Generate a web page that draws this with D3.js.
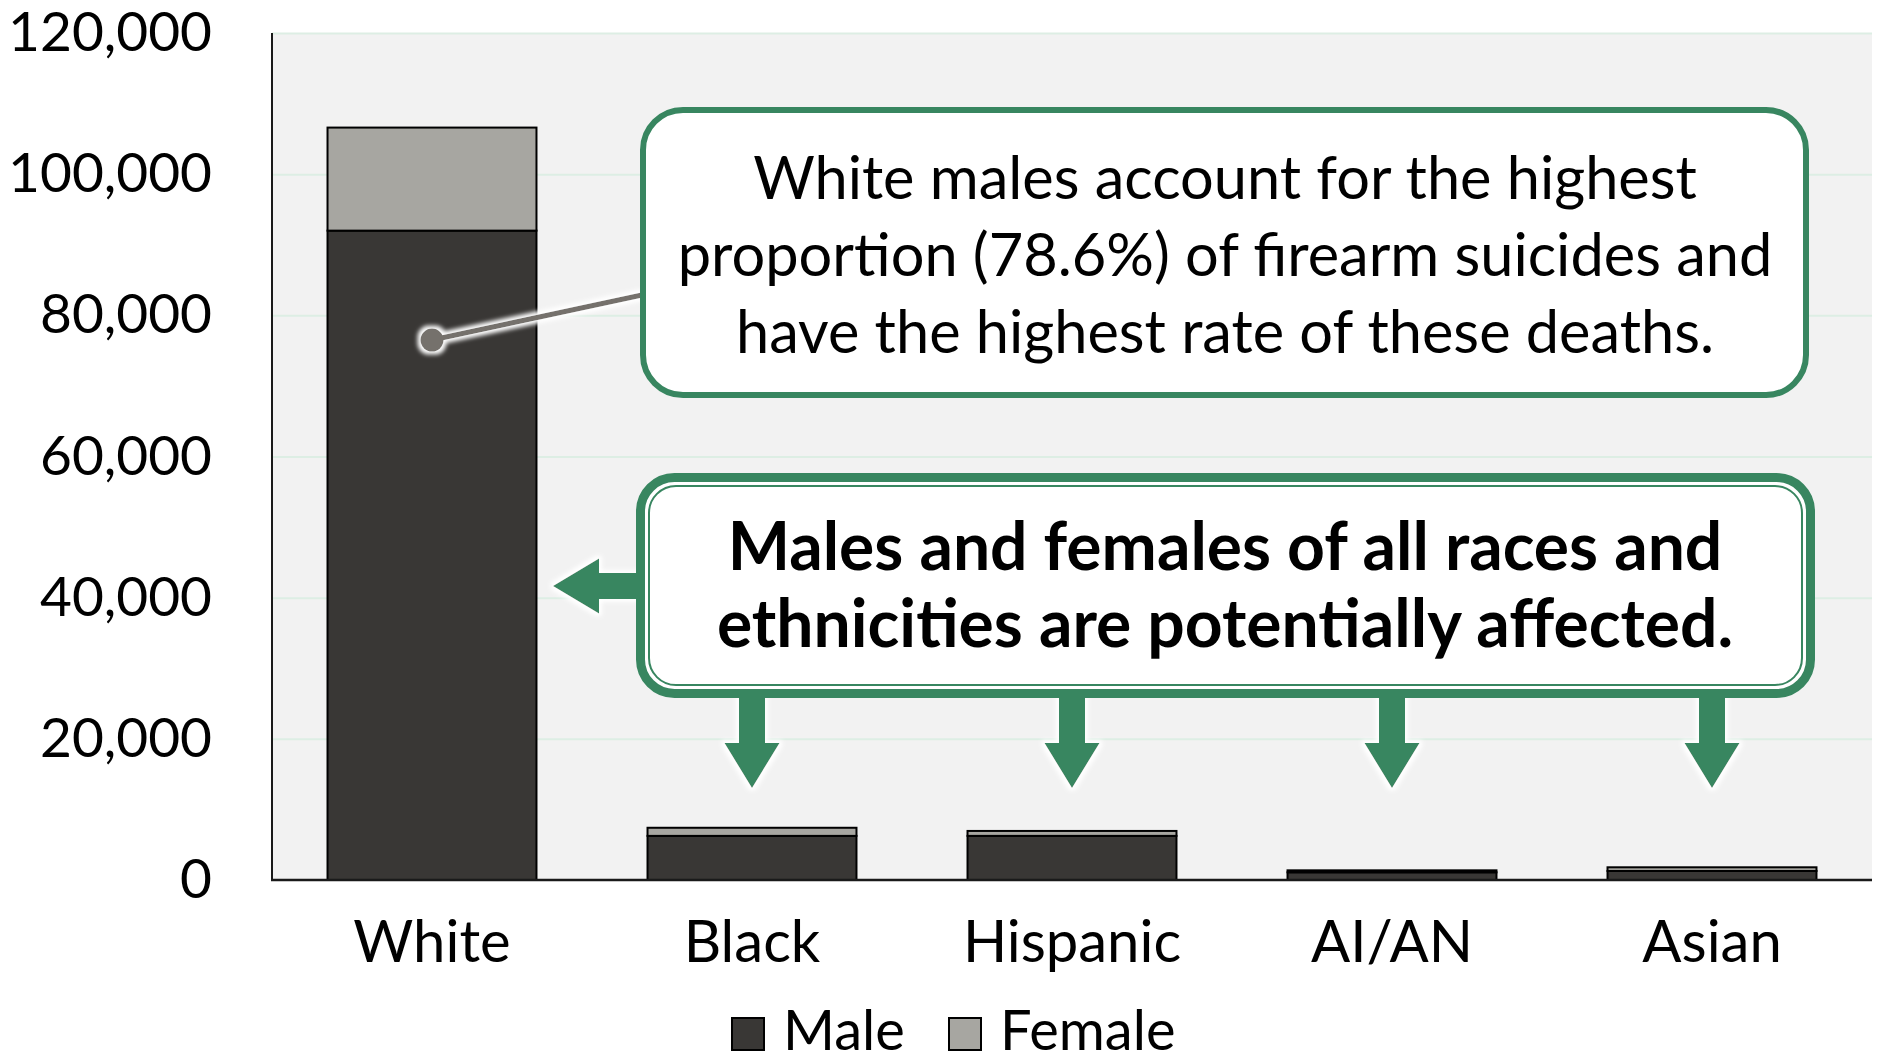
<!DOCTYPE html>
<html>
<head>
<meta charset="utf-8">
<script src="https://cdn.jsdelivr.net/npm/d3@7"></script>
<style>
  body { margin: 0; background: #fff; }
  svg { display: block; font-family: Lato, "Open Sans", sans-serif; }
</style>
</head>
<body>
<svg width="1878" height="1063"></svg>
<script>
const categories = ['White', 'Black', 'Hispanic', 'AI/AN', 'Asian'];
const maleDeaths = [92000, 6250, 6250, 1090, 1280];
const femaleDeaths = [14600, 1150, 700, 280, 520];
const yTicks = [0, 20000, 40000, 60000, 80000, 100000, 120000];
const seriesNames = ['Male', 'Female'];
const seriesColors = ['#393735', '#a7a6a1'];

const note1 = ['White males account for the highest',
    'proportion (78.6%) of firearm suicides and',
    'have the highest rate of these deaths.'];
const note2 = ['Males and females of all races and',
    'ethnicities are potentially affected.'];

const svg = d3.select('svg');
const green = '#388660';

const rows = categories.map((c, i) => ({cat: c, Male: maleDeaths[i], Female: femaleDeaths[i]}));
const stacked = d3.stack().keys(seriesNames)(rows);

const x = d3.scaleBand()
    .domain(categories)
    .range([272, 1872])
    .paddingInner(0.347)
    .paddingOuter(0.1735);

const y = d3.scaleLinear()
    .domain([0, 120000])
    .range([880, 33]);

const color = d3.scaleOrdinal().domain(seriesNames).range(seriesColors);

// white glow used on leader and arrows
const defs = svg.append('defs');
const glow = defs.append('filter').attr('id', 'glow')
    .attr('x', '-20%').attr('y', '-20%').attr('width', '140%').attr('height', '140%');
glow.append('feMorphology').attr('in', 'SourceAlpha').attr('operator', 'dilate').attr('radius', 2.5).attr('result', 'd');
glow.append('feGaussianBlur').attr('in', 'd').attr('stdDeviation', 2).attr('result', 'b');
glow.append('feFlood').attr('flood-color', '#fff').attr('result', 'w');
glow.append('feComposite').attr('in', 'w').attr('in2', 'b').attr('operator', 'in').attr('result', 'g');
const merge = glow.append('feMerge');
merge.append('feMergeNode').attr('in', 'g');
merge.append('feMergeNode').attr('in', 'SourceGraphic');

// plot background
svg.append('rect')
    .attr('x', 272).attr('y', y(120000))
    .attr('width', 1600).attr('height', y(0) - y(120000))
    .attr('fill', '#f2f2f2');

// gridlines
svg.append('g')
    .attr('transform', 'translate(272,0)')
    .call(d3.axisLeft(y).tickValues(yTicks.slice(1)).tickSize(-1600).tickFormat(''))
    .call(g => g.select('.domain').remove())
    .call(g => g.selectAll('line').attr('stroke', '#ddeee4').attr('stroke-width', 2));

// y labels
svg.append('g')
    .attr('transform', 'translate(272,0)')
    .call(d3.axisLeft(y).tickValues(yTicks).tickSize(0).tickPadding(60).tickFormat(d3.format(',')))
    .call(g => g.select('.domain').remove())
    .call(g => g.selectAll('text')
        .attr('font-family', 'Lato, sans-serif')
        .attr('font-size', 55)
        .attr('fill', '#000'));

// bars
svg.append('g')
    .selectAll('g')
    .data(stacked)
    .join('g')
    .attr('fill', d => color(d.key))
    .selectAll('rect')
    .data(d => d)
    .join('rect')
    .attr('x', d => x(d.data.cat))
    .attr('y', d => y(d[1]))
    .attr('width', x.bandwidth())
    .attr('height', d => y(d[0]) - y(d[1]))
    .attr('stroke', '#000')
    .attr('stroke-width', 2);

// axes lines
svg.append('line')
    .attr('x1', 272).attr('x2', 272).attr('y1', y(120000)).attr('y2', y(0))
    .attr('stroke', '#1a1a1a').attr('stroke-width', 2);
svg.append('line')
    .attr('x1', 271).attr('x2', 1872).attr('y1', y(0)).attr('y2', y(0))
    .attr('stroke', '#1a1a1a').attr('stroke-width', 2.5);

// x labels
svg.append('g')
    .attr('transform', `translate(0,${y(0)})`)
    .call(d3.axisBottom(x).tickSize(0).tickPadding(0))
    .call(g => g.select('.domain').remove())
    .call(g => g.selectAll('text')
        .attr('dy', 82)
        .attr('font-family', 'Lato, sans-serif')
        .attr('font-size', 58)
        .attr('fill', '#000'));

// callout 1 with leader
const cx = x('White') + x.bandwidth() / 2;
const leader = svg.append('g').attr('filter', 'url(#glow)');
leader.append('line')
    .attr('x1', cx).attr('y1', y(76500))
    .attr('x2', 642).attr('y2', 295)
    .attr('stroke', '#75716c').attr('stroke-width', 5);
leader.append('circle')
    .attr('cx', cx).attr('cy', y(76500)).attr('r', 11.5)
    .attr('fill', '#75716c');

svg.append('rect')
    .attr('x', 643).attr('y', 110)
    .attr('width', 1163).attr('height', 285)
    .attr('rx', 40)
    .attr('fill', '#fff')
    .attr('stroke', green).attr('stroke-width', 6);

svg.append('g')
    .selectAll('text')
    .data(note1)
    .join('text')
    .attr('x', 1225)
    .attr('y', (d, i) => 199 + i * 77)
    .attr('text-anchor', 'middle')
    .attr('font-size', 59.5)
    .attr('fill', '#000')
    .text(d => d);

// callout 2 with arrows
const arrows = svg.append('g').attr('filter', 'url(#glow)').attr('fill', green);
categories.slice(1).forEach(c => {
    const ax = x(c) + x.bandwidth() / 2;
    arrows.append('path')
        .attr('d', `M${ax - 13},690 L${ax + 13},690 L${ax + 13},743 L${ax + 27.5},743 L${ax},788 L${ax - 27.5},743 L${ax - 13},743 Z`);
});
arrows.append('path')
    .attr('d', 'M645,573 L599,573 L599,558.5 L553,586 L599,613.5 L599,599 L645,599 Z');

svg.append('rect')
    .attr('x', 640.5).attr('y', 477.5)
    .attr('width', 1170).attr('height', 216)
    .attr('rx', 34)
    .attr('fill', '#fff')
    .attr('stroke', green).attr('stroke-width', 9);
svg.append('rect')
    .attr('x', 649).attr('y', 486)
    .attr('width', 1153).attr('height', 199)
    .attr('rx', 27)
    .attr('fill', 'none')
    .attr('stroke', green).attr('stroke-width', 2);

svg.append('g')
    .selectAll('text')
    .data(note2)
    .join('text')
    .attr('x', 1225)
    .attr('y', (d, i) => 570 + i * 77)
    .attr('text-anchor', 'middle')
    .attr('font-size', 66)
    .attr('font-weight', 'bold')
    .attr('fill', '#000')
    .text(d => d);

// legend
const legend = svg.append('g')
    .selectAll('g')
    .data(seriesNames)
    .join('g')
    .attr('transform', (d, i) => `translate(${[732, 949][i]},1018)`);
legend.append('rect')
    .attr('width', 32).attr('height', 32)
    .attr('fill', d => color(d))
    .attr('stroke', '#000').attr('stroke-width', 2);
legend.append('text')
    .attr('x', 51).attr('y', 32)
    .attr('font-size', 56)
    .attr('fill', '#000')
    .text(d => d);
</script>
</body>
</html>
